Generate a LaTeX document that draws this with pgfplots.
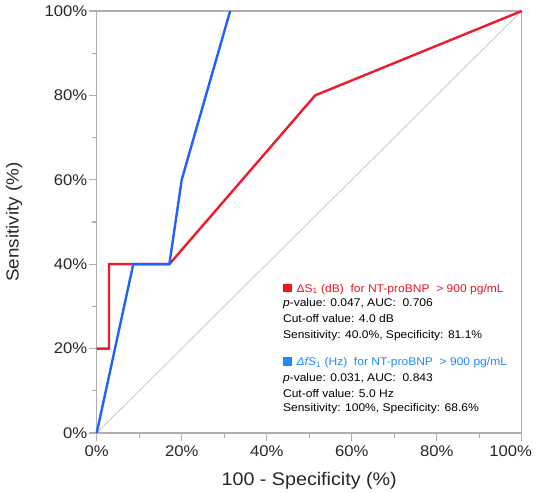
\documentclass[border=0pt]{standalone}
\usepackage{pgfplots}
\pgfplotsset{compat=1.18}
\usepackage{fontspec}
\setmainfont{Liberation Sans}[FakeStretch=1.08]
\definecolor{rocred}{RGB}{237,28,45}
\definecolor{rocblue}{RGB}{31,98,255}
\definecolor{txtblue}{RGB}{30,136,255}
\definecolor{txtred}{RGB}{240,20,30}
\definecolor{framegray}{RGB}{175,175,175}
\definecolor{diaggray}{RGB}{205,205,205}
\begin{document}
\begin{tikzpicture}
\begin{axis}[
  name=ax,
  scale only axis,
  width=425bp, height=422bp,
  xmin=0, xmax=100, ymin=0, ymax=100,
  clip=false,
  axis line style={framegray, line width=1.4bp},
  tick style={framegray, line width=1.2bp},
  major tick length=8bp, minor tick length=5bp,
  tick align=outside, tick pos=left,
  xtick={0,20,40,60,80},
  xticklabels={0\%,20\%,40\%,60\%,80\%},
  extra x ticks={100},
  extra x tick labels={100\%},
  extra x tick style={tick label style={xshift=-11bp}},
  minor xtick={10,30,50,70,90},
  ytick={0,20,40,60,80,100},
  yticklabels={0\%,20\%,40\%,60\%,80\%,100\%},
  minor ytick={10,30,50,70,90},
  /pgf/number format/assume math mode=true,
  tick label style={font=\fontsize{15.5}{18}\selectfont, text=black!85},
  yticklabel style={xshift=2bp},
  xticklabel style={yshift=-1.5bp},
  xlabel={100 - Specificity (\%)},
  ylabel={Sensitivity (\%)},
  every axis x label/.style={at={(axis description cs:0.5,-0.1137)}, anchor=center, font=\fontsize{18.3}{20}\selectfont, text=black!85},
  every axis y label/.style={at={(axis description cs:-0.1946,0.5)}, rotate=90, anchor=center, font=\fontsize{17.5}{20}\selectfont, text=black!85},
]
\addplot[diaggray, line width=0.9bp] coordinates {(0,0) (100,100)};
\addplot[rocred, line width=2.4bp, line join=miter] coordinates {
  (0,20) (2.9,20) (2.9,40) (17.1,40) (51.4,80) (100,100)};
\addplot[rocblue, line width=2.4bp, line join=round] coordinates {
  (0,0) (8.6,40) (17.1,40) (20,60) (31.4,100)};

\begin{scope}[every node/.style={anchor=base west, inner sep=0pt, font=\fontsize{11.2}{13}\selectfont}]
\node[text=txtred] at (axis cs:43.8,33.4) {\rule{8.5bp}{8.5bp}\hspace{5bp}ΔS\textsubscript{1} (dB)\ \ for NT-proBNP\ \ {>} 900 pg/mL};
\node at (axis cs:43.8,29.9) {\textit{p}-value: 0.047, AUC:\ \ 0.706};
\node at (axis cs:43.8,26.1) {Cut-off value: 4.0 dB};
\node at (axis cs:43.8,22.3) {Sensitivity: 40.0\%, Specificity: 81.1\%};
\node[text=txtblue] at (axis cs:43.8,15.9) {\rule{8.5bp}{8.5bp}\hspace{5bp}\textit{ΔfS}\textsubscript{1} (Hz)\ \ for NT-proBNP\ \ {>} 900 pg/mL};
\node at (axis cs:43.8,12.1) {\textit{p}-value: 0.031, AUC:\ \ 0.843};
\node at (axis cs:43.8,8.5) {Cut-off value: 5.0 Hz};
\node at (axis cs:43.8,5.0) {Sensitivity: 100\%, Specificity: 68.6\%};
\end{scope}
\end{axis}
\pgfresetboundingbox
\path[use as bounding box] ([shift={(-96.7bp,-60bp)}]ax.south west) rectangle ([shift={(14.3bp,11bp)}]ax.north east);
\end{tikzpicture}
\end{document}
